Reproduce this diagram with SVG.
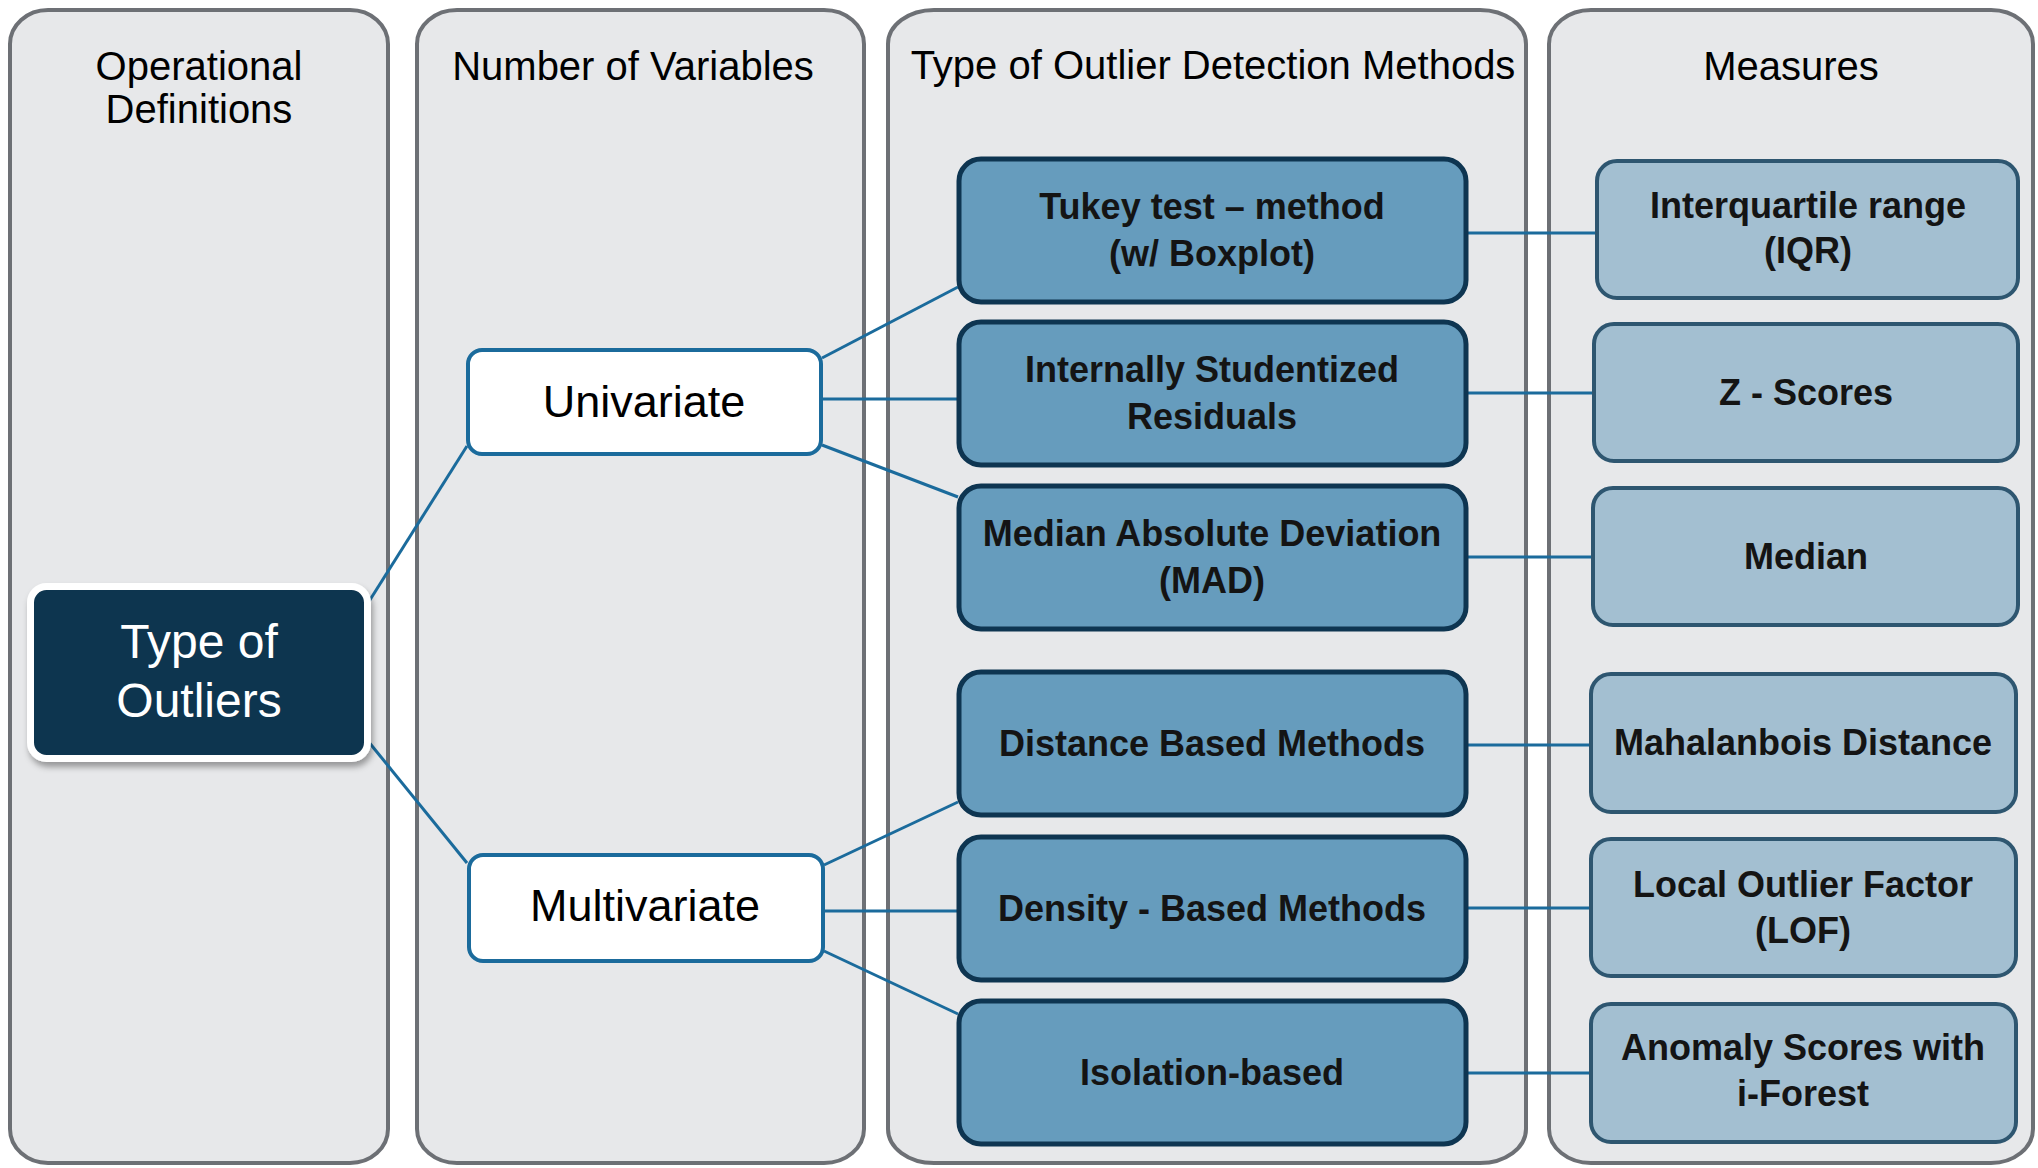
<svg xmlns="http://www.w3.org/2000/svg" width="2038" height="1168" viewBox="0 0 2038 1168">
  <defs>
    <filter id="shadow" x="-10%" y="-10%" width="120%" height="130%">
      <feDropShadow dx="2" dy="5" stdDeviation="3" flood-color="#000" flood-opacity="0.35"/>
    </filter>
    <style>
      .panel { fill: #e7e8ea; stroke: #6d7075; stroke-width: 4; }
      .head { font-family: "Liberation Sans", Arial, sans-serif; font-size: 40px; fill: #000; text-anchor: middle; }
      .root { fill: #0f3550; stroke: #ffffff; stroke-width: 7; }
      .root-t { font-family: "Liberation Sans", Arial, sans-serif; font-size: 48px; fill: #ffffff; text-anchor: middle; }
      .var { fill: #ffffff; stroke: #1b6b9c; stroke-width: 4; }
      .var-t { font-family: "Liberation Sans", Arial, sans-serif; font-size: 45px; fill: #000; text-anchor: middle; }
      .method { fill: #669cbd; stroke: #0e3551; stroke-width: 5; }
      .measure { fill: #a3bfd1; stroke: #2e5670; stroke-width: 4; }
      .bt { font-family: "Liberation Sans", Arial, sans-serif; font-weight: bold; font-size: 36px; fill: #141414; text-anchor: middle; }
      .link { stroke: #1b6b9c; stroke-width: 3; fill: none; }
    </style>
  </defs>

  <rect width="2038" height="1168" fill="#ffffff"/>

  <!-- Column panels -->
  <g id="panel-definitions">
    <rect class="panel" x="10" y="10" width="378" height="1153" rx="38" ry="34"/>
    <text class="head" x="199" y="80">Operational</text>
    <text class="head" x="199" y="123">Definitions</text>
  </g>
  <g id="panel-variables">
    <rect class="panel" x="417" y="10" width="447" height="1153" rx="40" ry="34"/>
    <text class="head" x="633" y="80">Number of Variables</text>
  </g>
  <g id="panel-methods">
    <rect class="panel" x="888" y="10" width="638" height="1153" rx="46" ry="34"/>
    <text class="head" x="1213" y="79">Type of Outlier Detection Methods</text>
  </g>
  <g id="panel-measures">
    <rect class="panel" x="1549" y="10" width="484" height="1153" rx="42" ry="34"/>
    <text class="head" x="1791" y="80">Measures</text>
  </g>

  <!-- Connectors -->
  <g id="connectors">
    <line class="link" x1="368" y1="603" x2="467" y2="446"/>
    <line class="link" x1="368" y1="741" x2="467" y2="863"/>
    <line class="link" x1="822" y1="358" x2="958" y2="287"/>
    <line class="link" x1="822" y1="399" x2="958" y2="399"/>
    <line class="link" x1="822" y1="445" x2="958" y2="497"/>
    <line class="link" x1="824" y1="865" x2="958" y2="802"/>
    <line class="link" x1="824" y1="911" x2="958" y2="911"/>
    <line class="link" x1="824" y1="951" x2="958" y2="1014"/>
    <line class="link" x1="1466" y1="233" x2="1597" y2="233"/>
    <line class="link" x1="1466" y1="393" x2="1594" y2="393"/>
    <line class="link" x1="1466" y1="557" x2="1593" y2="557"/>
    <line class="link" x1="1466" y1="745" x2="1591" y2="745"/>
    <line class="link" x1="1466" y1="908" x2="1591" y2="908"/>
    <line class="link" x1="1466" y1="1073" x2="1591" y2="1073"/>
  </g>

  <!-- Root node -->
  <g id="node-type-of-outliers">
    <rect class="root" x="30.5" y="586.5" width="337" height="172" rx="16" filter="url(#shadow)"/>
    <text class="root-t" x="199" y="658">Type of</text>
    <text class="root-t" x="199" y="717">Outliers</text>
  </g>

  <!-- Number of variables -->
  <g id="node-univariate">
    <rect class="var" x="468" y="350" width="353" height="104" rx="14"/>
    <text class="var-t" x="644" y="417">Univariate</text>
  </g>
  <g id="node-multivariate">
    <rect class="var" x="469" y="855" width="354" height="106" rx="14"/>
    <text class="var-t" x="645" y="921">Multivariate</text>
  </g>

  <!-- Detection methods -->
  <g id="node-tukey">
    <rect class="method" x="959" y="159" width="507" height="143" rx="22"/>
    <text class="bt" x="1212" y="219">Tukey test – method</text>
    <text class="bt" x="1212" y="266">(w/ Boxplot)</text>
  </g>
  <g id="node-studentized">
    <rect class="method" x="959" y="322" width="507" height="143" rx="22"/>
    <text class="bt" x="1212" y="382">Internally Studentized</text>
    <text class="bt" x="1212" y="429">Residuals</text>
  </g>
  <g id="node-mad">
    <rect class="method" x="959" y="486" width="507" height="143" rx="22"/>
    <text class="bt" x="1212" y="546">Median Absolute Deviation</text>
    <text class="bt" x="1212" y="593">(MAD)</text>
  </g>
  <g id="node-distance">
    <rect class="method" x="959" y="672" width="507" height="143" rx="22"/>
    <text class="bt" x="1212" y="756">Distance Based Methods</text>
  </g>
  <g id="node-density">
    <rect class="method" x="959" y="837" width="507" height="143" rx="22"/>
    <text class="bt" x="1212" y="921">Density - Based Methods</text>
  </g>
  <g id="node-isolation">
    <rect class="method" x="959" y="1001" width="507" height="143" rx="22"/>
    <text class="bt" x="1212" y="1085">Isolation-based</text>
  </g>

  <!-- Measures -->
  <g id="node-iqr">
    <rect class="measure" x="1597" y="161" width="421" height="137" rx="20"/>
    <text class="bt" x="1808" y="218">Interquartile range</text>
    <text class="bt" x="1808" y="263">(IQR)</text>
  </g>
  <g id="node-zscores">
    <rect class="measure" x="1594" y="324" width="424" height="137" rx="20"/>
    <text class="bt" x="1806" y="405">Z - Scores</text>
  </g>
  <g id="node-median">
    <rect class="measure" x="1593" y="488" width="425" height="137" rx="20"/>
    <text class="bt" x="1806" y="569">Median</text>
  </g>
  <g id="node-mahalanobis">
    <rect class="measure" x="1591" y="674" width="425" height="138" rx="20"/>
    <text class="bt" x="1803" y="755">Mahalanbois Distance</text>
  </g>
  <g id="node-lof">
    <rect class="measure" x="1591" y="839" width="425" height="137" rx="20"/>
    <text class="bt" x="1803" y="897">Local Outlier Factor</text>
    <text class="bt" x="1803" y="943">(LOF)</text>
  </g>
  <g id="node-iforest">
    <rect class="measure" x="1591" y="1004" width="425" height="138" rx="20"/>
    <text class="bt" x="1803" y="1060">Anomaly Scores with</text>
    <text class="bt" x="1803" y="1106">i-Forest</text>
  </g>
</svg>
